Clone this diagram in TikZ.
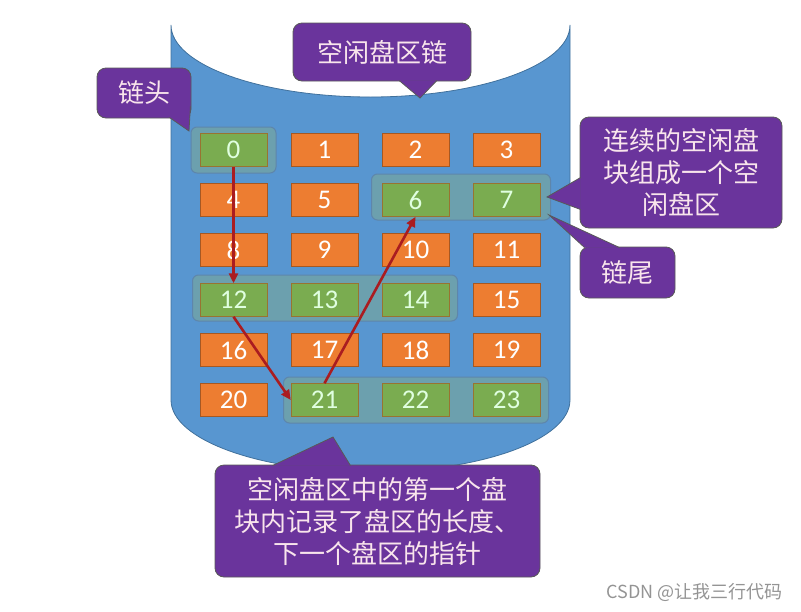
\documentclass[tikz,border=0pt]{standalone}
\usepackage{fontspec}
\setmainfont{Carlito}
\newfontfamily\cjk{Noto Sans CJK SC}
\usetikzlibrary{positioning,calc,arrows.meta}
\definecolor{diskblue}{RGB}{88,150,208}
\definecolor{diskedge}{RGB}{65,113,156}
\definecolor{usedorange}{RGB}{237,125,49}
\definecolor{freegreen}{RGB}{122,172,80}
\definecolor{groupteal}{RGB}{108,160,174}
\definecolor{calloutpurple}{RGB}{106,52,156}
\definecolor{arrowred}{RGB}{170,28,32}

\tikzset{
  blk/.style={draw=usedorange!70!black, line width=0.5pt, minimum width=67pt, minimum height=33pt, inner sep=0pt, font=\fontsize{27}{27}\selectfont, text=white},
  used/.style={blk, fill=usedorange},
  free/.style={blk, fill=freegreen, draw=usedorange!60!freegreen!80!black, text=white!88!green},
  grp/.style={draw=diskedge!85, line width=1pt, fill=groupteal, rounded corners=6pt, minimum height=46pt, inner sep=0pt},
  callout/.style={draw=black!65, line width=0.8pt, fill=calloutpurple, rounded corners=9pt, text=white!90!purple, font=\cjk\fontsize{26}{32}\selectfont, align=center, inner sep=0pt},
  wedge/.style={draw=black!65, line width=0.8pt, fill=calloutpurple},
  link/.style={arrowred, line width=2.6pt, -{Triangle[length=10pt,width=9pt]}}
}

\begin{document}
\begin{tikzpicture}[x=1pt,y=-1pt]
\useasboundingbox (0,0) rectangle (801,611);

% disk cylinder
\filldraw[fill=diskblue, draw=diskedge, line width=0.8pt] (171,25) -- (171,400)
  arc[start angle=180, end angle=0, x radius=199.5, y radius=72] -- (570,25)
  arc[start angle=0, end angle=180, x radius=199.5, y radius=72] -- cycle;

% free areas
\node[grp, minimum width=85pt]  (g0)  at (233.5,150) {};
\node[grp, minimum width=179pt] (g6)  at (461,197) {};
\node[grp, minimum width=265pt] (g12) at (325,298) {};
\node[grp, minimum width=265pt] (g21) at (416,400) {};

% blocks
\foreach \n/\kind in {0/free,1/used,2/used,3/used,4/used,5/used,6/free,7/free,
  8/used,9/used,10/used,11/used,12/free,13/free,14/free,15/used,
  16/used,17/used,18/used,19/used,20/used,21/free,22/free,23/free} {
  \pgfmathtruncatemacro\col{mod(\n,4)}
  \pgfmathtruncatemacro\row{div(\n,4)}
  \node[\kind] (b\n) at ({233.5+91*\col},{150+50*\row}) {\n};
}

% chain
\draw[link] (b0.south) -- (b12.north);
\draw[link] (b12.south) -- (b21.west);
\draw[link] (b21.north) -- (b6.south);

% callouts
\coordinate (chainTip) at (420,98);
\coordinate (headTip) at (189,131);
\coordinate (areaTip) at (547,197);
\coordinate (tailTip) at (549,215);
\coordinate (firstTip) at (333,437);

\node[callout, minimum width=178pt, minimum height=58pt] (chainNote) at (382,52) {空闲盘区链};
\node[callout, minimum width=94pt, minimum height=50pt] (headNote) at (144,93) {链头};
\node[callout, minimum width=202pt, minimum height=111pt] (areaNote) at (681,172.5)
  {连续的空闲盘\\块组成一个空\\闲盘区};
\node[callout, minimum width=95pt, minimum height=51pt] (tailNote) at (627.5,272.5) {链尾};
\node[callout, minimum width=325pt, minimum height=112pt] (firstNote) at (377.5,521)
  {空闲盘区中的第一个盘\\块内记录了盘区的长度、\\下一个盘区的指针};

\filldraw[wedge] ($(chainNote.south)+(17,-1)$) -- (chainTip) -- ($(chainNote.south)+(55,-1)$);
\filldraw[wedge] ($(headNote.south east)+(-22,-1)$) -- (headTip) -- ($(headNote.south east)+(-1,-12)$);
\filldraw[wedge] ($(areaNote.west)+(1,5)$) -- (areaTip) -- ($(areaNote.west)+(1,37)$);
\filldraw[wedge] ($(tailNote.north west)+(5,1)$) -- (tailTip) -- ($(tailNote.north west)+(40,1)$);
\filldraw[wedge] ($(firstNote.north)+(-105,1)$) -- (firstTip) -- ($(firstNote.north)+(-27,1)$);

% watermark
\node[text=black!42, font=\cjk\fontsize{18}{18}\selectfont, anchor=east] (mark) at (786,592) {CSDN @让我三行代码};
\end{tikzpicture}
\end{document}
